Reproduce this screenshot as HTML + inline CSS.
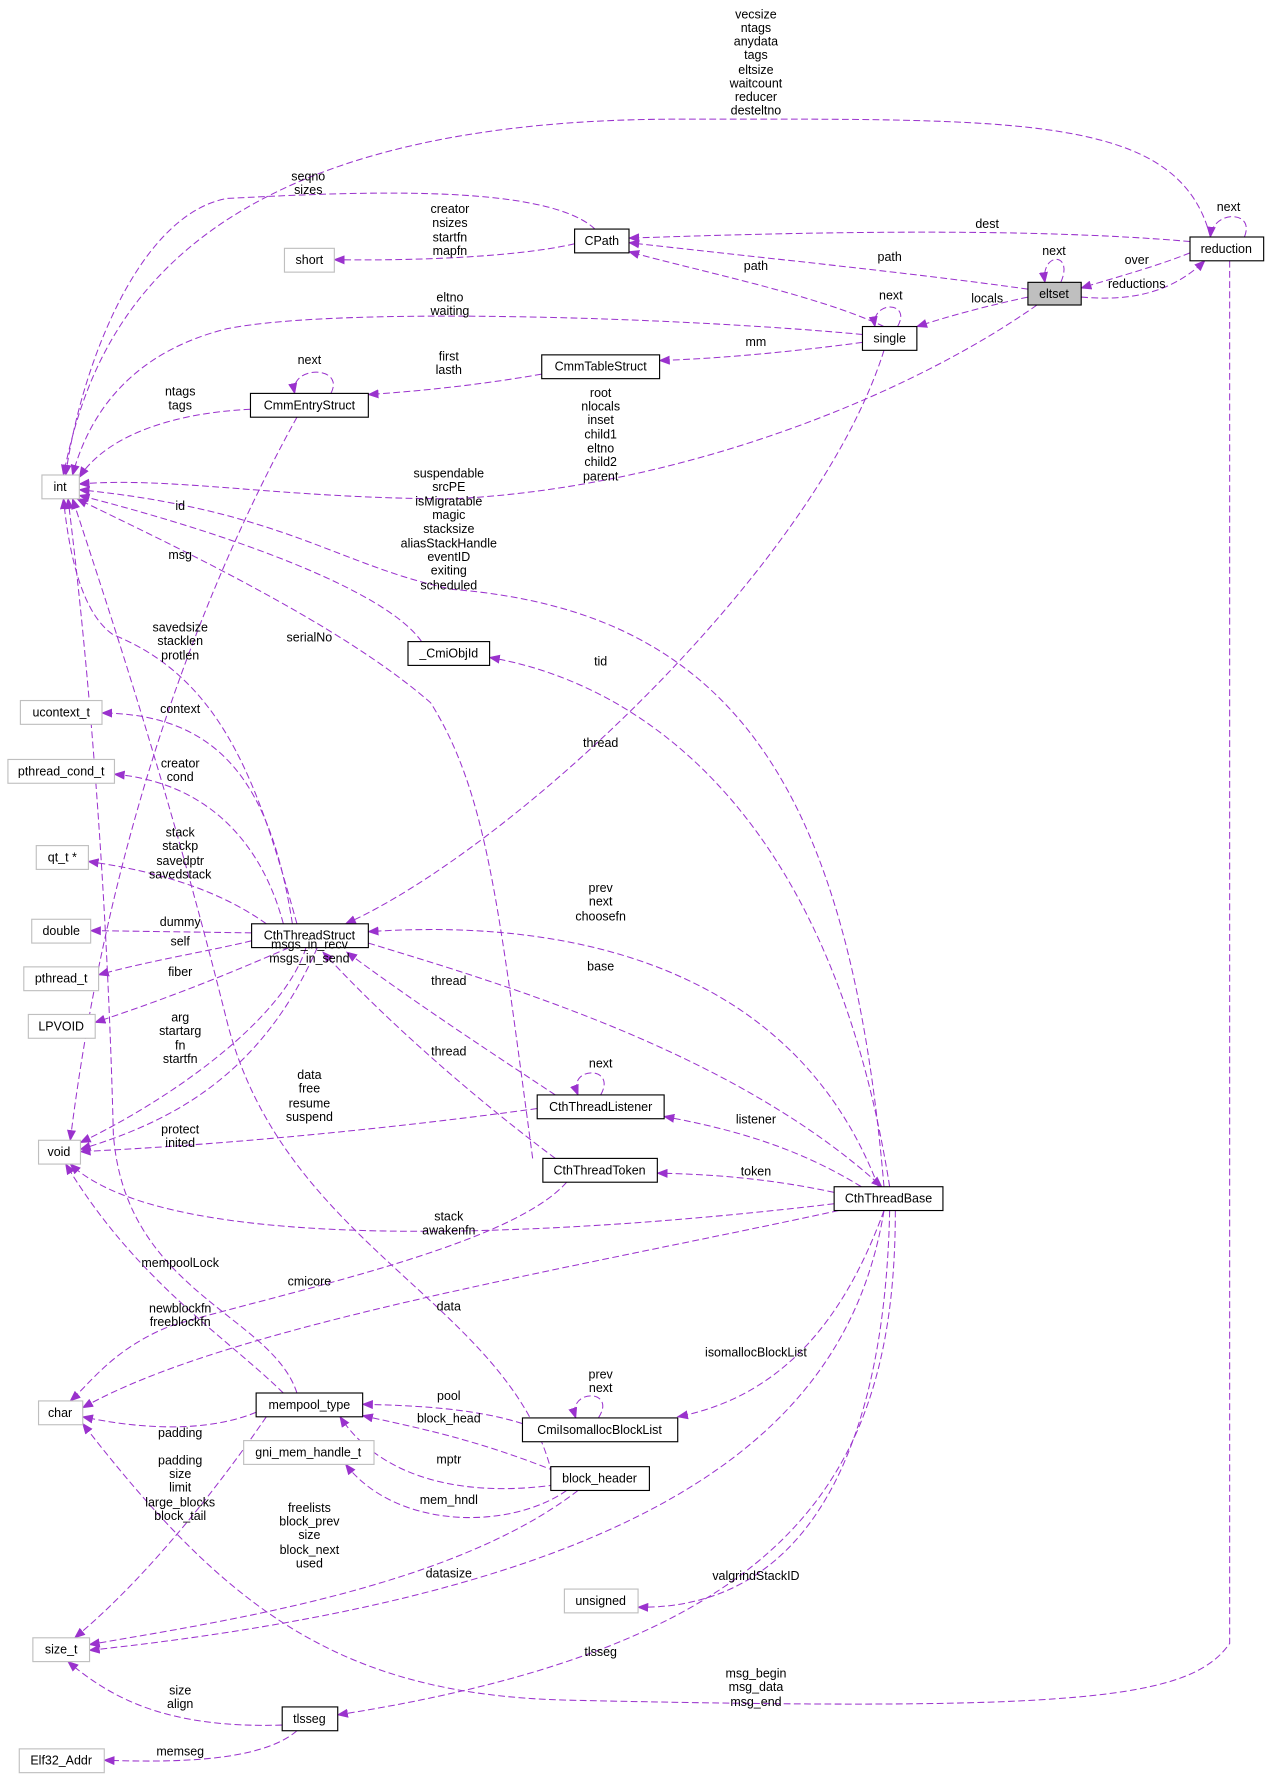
<!DOCTYPE html>
<html><head><meta charset="utf-8"><style>
html,body{margin:0;padding:0;background:#fff;}
svg{display:block;}
text{font-family:"Liberation Sans",sans-serif;font-size:11px;fill:#000;}
.e{fill:none;stroke:#9a32cd;stroke-width:0.9;stroke-dasharray:6,3;}
.n{fill:#fff;stroke:#000;stroke-width:1;}
.g{fill:#fff;stroke:#bfbfbf;stroke-width:1;}
</style></head><body>
<svg width="1275" height="1783" viewBox="0 0 1125 1573" xmlns="http://www.w3.org/2000/svg">
<defs><marker id="a" markerWidth="10" markerHeight="8" refX="9" refY="4" orient="auto" markerUnits="userSpaceOnUse"><path d="M0,0 L10,4 L0,8 z" fill="#9a32cd"/></marker></defs>
<g marker-end="url(#a)">
<path class="e" d="M1068 209 C1040 100,900 105,600 105 C150 105,80 300,56 419"/>
<path class="e" d="M525 202 C480 160,300 170,200 175 C120 190,70 330,58 419"/>
<path class="e" d="M507 215 C450 228,350 230,295 229"/>
<path class="e" d="M1050 213 C900 200,700 205,555 210"/>
<path class="e" d="M907 255 C800 240,650 225,555 214"/>
<path class="e" d="M780 288 C720 260,620 240,555 222"/>
<path class="e" d="M936 249 C948 222,918 222,922 249"/>
<path class="e" d="M1050 223 C1020 235,990 243,954 254"/>
<path class="e" d="M954 262 C990 265,1030 262,1063 230"/>
<path class="e" d="M1098 209 C1108 185,1070 185,1068 209"/>
<path class="e" d="M907 262 C870 270,840 278,809 288"/>
<path class="e" d="M792 288 C805 265,768 265,772 288"/>
<path class="e" d="M761 295 C600 280,300 270,200 290 C120 310,80 360,64 419"/>
<path class="e" d="M761 302 C700 310,640 316,582 318"/>
<path class="e" d="M478 330 C420 340,370 345,325 348"/>
<path class="e" d="M292 347 C305 322,255 322,260 347"/>
<path class="e" d="M221 361 C140 365,90 390,70 421"/>
<path class="e" d="M915 269 C800 350,600 430,400 440 C250 440,150 420,70 427"/>
<path class="e" d="M780 1047 C750 700,650 540,400 520 C300 500,250 450,70 432"/>
<path class="e" d="M372 566 C340 520,200 470,70 437"/>
<path class="e" d="M262 368 C200 480,100 700,62 1006"/>
<path class="e" d="M470 1022 C440 800,430 700,380 620 C300 550,150 480,68 440"/>
<path class="e" d="M262 815 C230 700,200 600,100 560 C70 540,60 480,56 440"/>
<path class="e" d="M258 815 C240 700,200 630,90 629"/>
<path class="e" d="M250 815 C230 740,180 690,101 683"/>
<path class="e" d="M235 815 C200 790,150 770,78 760"/>
<path class="e" d="M222 823 L80 821"/>
<path class="e" d="M222 830 C180 840,130 848,87 860"/>
<path class="e" d="M255 836 C200 860,150 880,84 902"/>
<path class="e" d="M270 836 C250 900,150 970,71 1008"/>
<path class="e" d="M280 836 C230 950,150 990,71 1014"/>
<path class="e" d="M490 966 C420 920,360 880,306 840"/>
<path class="e" d="M490 1022 C420 970,340 900,285 840"/>
<path class="e" d="M325 832 C450 870,650 930,778 1047"/>
<path class="e" d="M530 966 C545 940,500 940,510 966"/>
<path class="e" d="M474 978 C350 995,200 1010,71 1016"/>
<path class="e" d="M775 1047 C700 850,500 810,325 822"/>
<path class="e" d="M780 309 C720 500,450 750,305 815"/>
<path class="e" d="M785 1047 C730 700,550 600,432 580"/>
<path class="e" d="M760 1047 C700 1010,640 995,586 985"/>
<path class="e" d="M736 1052 C680 1040,630 1036,580 1035"/>
<path class="e" d="M736 1062 C500 1090,150 1110,62 1027"/>
<path class="e" d="M740 1068 C500 1120,200 1170,73 1242"/>
<path class="e" d="M500 1043 C450 1100,250 1140,150 1170 C100 1190,80 1220,62 1236"/>
<path class="e" d="M250 1229 C200 1180,120 1130,58 1027"/>
<path class="e" d="M262 1229 C240 1160,110 1140,100 1000 C95 800,80 600,60 440"/>
<path class="e" d="M487 1300 C450 1150,250 1100,200 900 C150 700,100 550,64 440"/>
<path class="e" d="M226 1246 C180 1265,120 1260,73 1250"/>
<path class="e" d="M235 1250 C180 1330,120 1400,66 1445"/>
<path class="e" d="M461 1256 C420 1243,370 1240,320 1239"/>
<path class="e" d="M490 1298 C420 1270,370 1260,320 1249"/>
<path class="e" d="M490 1310 C420 1320,340 1310,300 1250"/>
<path class="e" d="M500 1315 C450 1350,350 1350,305 1292"/>
<path class="e" d="M510 1315 C400 1400,200 1430,79 1451"/>
<path class="e" d="M528 1251 C545 1225,500 1225,508 1251"/>
<path class="e" d="M780 1068 C750 1150,700 1230,598 1250"/>
<path class="e" d="M780 1068 C750 1250,600 1400,79 1456"/>
<path class="e" d="M785 1068 C780 1300,700 1420,563 1418"/>
<path class="e" d="M790 1068 C790 1300,700 1450,298 1513"/>
<path class="e" d="M1085 230 L1085 1450 C1050 1500,950 1510,500 1500 C300 1495,200 1420,73 1256"/>
<path class="e" d="M249 1522 C150 1525,100 1500,60 1466"/>
<path class="e" d="M262 1527 C230 1555,150 1555,92 1553"/>
</g>
<g>
<rect class="n" x="507" y="202" width="48" height="21"/><text x="531" y="216" text-anchor="middle">CPath</text>
<rect class="g" x="251" y="219" width="44" height="21"/><text x="273" y="233" text-anchor="middle">short</text>
<rect class="n" x="1050" y="209" width="65" height="21"/><text x="1082" y="223" text-anchor="middle">reduction</text>
<rect x="907" y="249" width="47" height="20" fill="#bfbfbf" stroke="#000"/><text x="930" y="263" text-anchor="middle">eltset</text>
<rect class="n" x="761" y="288" width="48" height="21"/><text x="785" y="302" text-anchor="middle">single</text>
<rect class="n" x="478" y="313" width="104" height="21"/><text x="530" y="327" text-anchor="middle">CmmTableStruct</text>
<rect class="n" x="221" y="347" width="104" height="21"/><text x="273" y="361" text-anchor="middle">CmmEntryStruct</text>
<rect class="g" x="37" y="419" width="33" height="21"/><text x="53" y="433" text-anchor="middle">int</text>
<rect class="n" x="360" y="566" width="72" height="21"/><text x="396" y="580" text-anchor="middle">_CmiObjId</text>
<rect class="g" x="18" y="618" width="72" height="21"/><text x="54" y="632" text-anchor="middle">ucontext_t</text>
<rect class="g" x="7" y="670" width="94" height="21"/><text x="54" y="684" text-anchor="middle">pthread_cond_t</text>
<rect class="g" x="32" y="746" width="46" height="21"/><text x="55" y="760" text-anchor="middle">qt_t *</text>
<rect class="g" x="28" y="811" width="52" height="21"/><text x="54" y="825" text-anchor="middle">double</text>
<rect class="n" x="222" y="815" width="103" height="21"/><text x="273" y="829" text-anchor="middle">CthThreadStruct</text>
<rect class="g" x="21" y="853" width="66" height="21"/><text x="54" y="867" text-anchor="middle">pthread_t</text>
<rect class="g" x="25" y="895" width="59" height="21"/><text x="54" y="909" text-anchor="middle">LPVOID</text>
<rect class="g" x="34" y="1006" width="37" height="21"/><text x="52" y="1020" text-anchor="middle">void</text>
<rect class="n" x="474" y="966" width="112" height="21"/><text x="530" y="980" text-anchor="middle">CthThreadListener</text>
<rect class="n" x="479" y="1022" width="101" height="21"/><text x="529" y="1036" text-anchor="middle">CthThreadToken</text>
<rect class="n" x="736" y="1047" width="96" height="21"/><text x="784" y="1061" text-anchor="middle">CthThreadBase</text>
<rect class="g" x="34" y="1236" width="39" height="21"/><text x="53" y="1250" text-anchor="middle">char</text>
<rect class="n" x="226" y="1229" width="94" height="21"/><text x="273" y="1243" text-anchor="middle">mempool_type</text>
<rect class="n" x="461" y="1251" width="137" height="21"/><text x="529" y="1265" text-anchor="middle">CmiIsomallocBlockList</text>
<rect class="g" x="215" y="1271" width="115" height="21"/><text x="272" y="1285" text-anchor="middle">gni_mem_handle_t</text>
<rect class="n" x="486" y="1294" width="87" height="21"/><text x="529" y="1308" text-anchor="middle">block_header</text>
<rect class="g" x="498" y="1402" width="65" height="21"/><text x="530" y="1416" text-anchor="middle">unsigned</text>
<rect class="g" x="29" y="1445" width="50" height="21"/><text x="54" y="1459" text-anchor="middle">size_t</text>
<rect class="n" x="249" y="1506" width="49" height="21"/><text x="273" y="1520" text-anchor="middle">tlsseg</text>
<rect class="g" x="17" y="1543" width="75" height="21"/><text x="54" y="1557" text-anchor="middle">Elf32_Addr</text>
</g>
<g text-anchor="middle">
<text x="667" y="16">vecsize</text><text x="667" y="28">ntags</text><text x="667" y="40">anydata</text><text x="667" y="52">tags</text><text x="667" y="65">eltsize</text><text x="667" y="77">waitcount</text><text x="667" y="89">reducer</text><text x="667" y="101">desteltno</text>
<text x="272" y="159">seqno</text><text x="272" y="171">sizes</text>
<text x="397" y="188">creator</text><text x="397" y="200">nsizes</text><text x="397" y="213">startfn</text><text x="397" y="225">mapfn</text>
<text x="871" y="201">dest</text><text x="1084" y="186">next</text>
<text x="930" y="225">next</text><text x="785" y="230">path</text><text x="1003" y="233">over</text><text x="1003" y="254">reductions</text>
<text x="667" y="238">path</text><text x="786" y="264">next</text><text x="871" y="267">locals</text>
<text x="397" y="266">eltno</text><text x="397" y="278">waiting</text>
<text x="667" y="305">mm</text>
<text x="396" y="318">first</text><text x="396" y="330">lasth</text>
<text x="273" y="321">next</text>
<text x="159" y="349">ntags</text><text x="159" y="361">tags</text>
<text x="530" y="350">root</text><text x="530" y="362">nlocals</text><text x="530" y="374">inset</text><text x="530" y="387">child1</text><text x="530" y="399">eltno</text><text x="530" y="411">child2</text><text x="530" y="424">parent</text>
<text x="396" y="421">suspendable</text><text x="396" y="433">srcPE</text>
<text x="396" y="446">isMigratable</text><text x="396" y="458">magic</text><text x="396" y="470">stacksize</text><text x="396" y="483">aliasStackHandle</text><text x="396" y="495">eventID</text><text x="396" y="507">exiting</text><text x="396" y="520">scheduled</text>
<text x="159" y="450">id</text><text x="159" y="493">msg</text>
<text x="159" y="557">savedsize</text><text x="159" y="569">stacklen</text><text x="159" y="582">protlen</text>
<text x="273" y="566">serialNo</text><text x="530" y="587">tid</text>
<text x="159" y="629">context</text>
<text x="530" y="659">thread</text>
<text x="159" y="677">creator</text><text x="159" y="689">cond</text>
<text x="159" y="738">stack</text><text x="159" y="750">stackp</text><text x="159" y="763">savedptr</text><text x="159" y="775">savedstack</text>
<text x="530" y="787">prev</text><text x="530" y="799">next</text><text x="530" y="812">choosefn</text>
<text x="159" y="817">dummy</text><text x="159" y="834">self</text>
<text x="273" y="837">msgs_in_recv</text><text x="273" y="849">msgs_in_send</text>
<text x="530" y="856">base</text><text x="159" y="861">fiber</text><text x="396" y="869">thread</text>
<text x="159" y="901">arg</text><text x="159" y="913">startarg</text><text x="159" y="926">fn</text><text x="159" y="938">startfn</text>
<text x="396" y="931">thread</text><text x="530" y="942">next</text>
<text x="273" y="952">data</text><text x="273" y="964">free</text><text x="273" y="977">resume</text><text x="273" y="989">suspend</text>
<text x="667" y="991">listener</text>
<text x="159" y="1000">protect</text><text x="159" y="1012">inited</text>
<text x="667" y="1037">token</text>
<text x="396" y="1077">stack</text><text x="396" y="1089">awakenfn</text>
<text x="159" y="1118">mempoolLock</text><text x="273" y="1134">cmicore</text><text x="396" y="1156">data</text>
<text x="159" y="1158">newblockfn</text><text x="159" y="1170">freeblockfn</text>
<text x="667" y="1197">isomallocBlockList</text>
<text x="530" y="1216">prev</text><text x="530" y="1228">next</text>
<text x="396" y="1235">pool</text><text x="396" y="1255">block_head</text>
<text x="159" y="1268">padding</text><text x="396" y="1291">mptr</text>
<text x="159" y="1292">padding</text><text x="159" y="1304">size</text><text x="159" y="1316">limit</text><text x="159" y="1329">large_blocks</text><text x="159" y="1341">block_tail</text>
<text x="396" y="1327">mem_hndl</text>
<text x="273" y="1334">freelists</text><text x="273" y="1346">block_prev</text><text x="273" y="1358">size</text><text x="273" y="1371">block_next</text><text x="273" y="1383">used</text>
<text x="396" y="1392">datasize</text><text x="667" y="1394">valgrindStackID</text>
<text x="530" y="1461">tlsseg</text>
<text x="667" y="1480">msg_begin</text><text x="667" y="1492">msg_data</text><text x="667" y="1505">msg_end</text>
<text x="159" y="1495">size</text><text x="159" y="1507">align</text>
<text x="159" y="1549">memseg</text>
</g>
</svg>
</body></html>
